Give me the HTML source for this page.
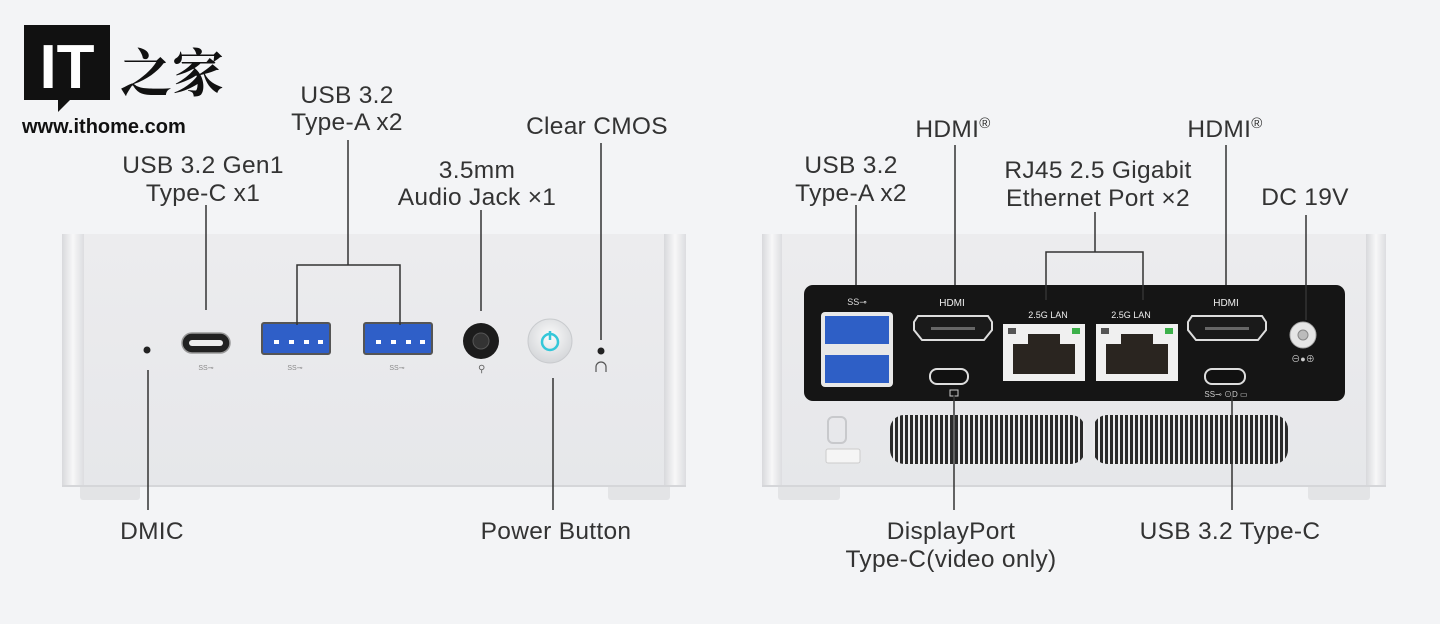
<!DOCTYPE html>
<html><head><meta charset="utf-8"><style>
html,body{margin:0;padding:0;background:#f3f4f6;}
svg{display:block}
text{font-family:"Liberation Sans","Noto Sans CJK SC",sans-serif;fill:#333;}
</style></head><body>
<svg width="1440" height="624" viewBox="0 0 1440 624" xmlns="http://www.w3.org/2000/svg">
<defs>
<linearGradient id="box" x1="0" y1="0" x2="0" y2="1"><stop offset="0" stop-color="#ececee"/><stop offset="1" stop-color="#e6e7ea"/></linearGradient>
<linearGradient id="side" x1="0" y1="0" x2="1" y2="0"><stop offset="0" stop-color="#d8d9dc"/><stop offset="0.5" stop-color="#f7f7f8"/><stop offset="1" stop-color="#dcdde0"/></linearGradient>
<pattern id="vent" width="5" height="10" patternUnits="userSpaceOnUse"><rect width="5" height="10" fill="#ededee"/><rect width="3" height="10" fill="#2a2a2a"/></pattern>
<radialGradient id="pb" cx="0.5" cy="0.4" r="0.6"><stop offset="0" stop-color="#fbfbfb"/><stop offset="1" stop-color="#d4d6d9"/></radialGradient>
</defs>
<rect width="1440" height="624" fill="#f3f4f6"/>

<!-- logo -->
<rect x="24" y="25" width="86" height="75" fill="#111"/>
<polygon points="58,100 70,100 58,112" fill="#111"/>
<text x="67" y="88" font-size="62" font-weight="bold" text-anchor="middle" style="fill:#fff">IT</text>
<text x="120" y="92" font-size="52" font-weight="bold" style="fill:#111;font-family:'Noto Serif CJK SC',serif">之家</text>
<text x="22" y="133" font-size="20" font-weight="bold" style="fill:#111">www.ithome.com</text>

<!-- LEFT BOX -->
<rect x="80" y="480" width="60" height="20" rx="3" fill="#e3e4e6"/>
<rect x="608" y="480" width="62" height="20" rx="3" fill="#e3e4e6"/>
<rect x="62" y="234" width="624" height="253" fill="url(#box)"/>
<rect x="62" y="234" width="22" height="253" fill="url(#side)"/>
<rect x="664" y="234" width="22" height="253" fill="url(#side)"/>
<line x1="62" y1="486" x2="686" y2="486" stroke="#d5d6d9" stroke-width="2"/>

<circle cx="147" cy="350" r="3.5" fill="#222"/>
<rect x="182" y="333" width="48" height="20" rx="10" fill="#222" stroke="#999" stroke-width="1.5"/>
<rect x="189" y="340" width="34" height="6" rx="3" fill="#eee"/>
<text x="206" y="370" font-size="7" text-anchor="middle" style="fill:#888">SS⊸</text>
<g>
<rect x="262" y="323" width="68" height="31" rx="2" fill="#2f5fc8" stroke="#555" stroke-width="2"/>
<rect x="274" y="340" width="5" height="4" fill="#fff"/><rect x="289" y="340" width="5" height="4" fill="#fff"/><rect x="304" y="340" width="5" height="4" fill="#fff"/><rect x="318" y="340" width="5" height="4" fill="#fff"/>
<text x="295" y="370" font-size="7" text-anchor="middle" style="fill:#888">SS⊸</text>
<rect x="364" y="323" width="68" height="31" rx="2" fill="#2f5fc8" stroke="#555" stroke-width="2"/>
<rect x="376" y="340" width="5" height="4" fill="#fff"/><rect x="391" y="340" width="5" height="4" fill="#fff"/><rect x="406" y="340" width="5" height="4" fill="#fff"/><rect x="420" y="340" width="5" height="4" fill="#fff"/>
<text x="397" y="370" font-size="7" text-anchor="middle" style="fill:#888">SS⊸</text>
</g>
<circle cx="481" cy="341" r="18" fill="#1c1c1c"/>
<circle cx="481" cy="341" r="8" fill="#333" stroke="#555"/>
<text x="478" y="372" font-size="10" style="fill:#666">⚲</text>
<circle cx="550" cy="341" r="22" fill="url(#pb)" stroke="#c9cbce"/>
<circle cx="550" cy="342" r="8" fill="none" stroke="#35c7d9" stroke-width="2.5"/>
<line x1="550" y1="331" x2="550" y2="340" stroke="#35c7d9" stroke-width="2.5"/>
<circle cx="601" cy="351" r="3.5" fill="#222"/>
<path d="M596 372 v-5 a5 5 0 0 1 10 0 v5" fill="none" stroke="#555" stroke-width="1.2"/>

<!-- left connectors -->
<g stroke="#333" stroke-width="1.5" fill="none">
<line x1="206" y1="205" x2="206" y2="310"/>
<polyline points="348,140 348,265"/>
<polyline points="297,325 297,265 400,265 400,325"/>
<line x1="481" y1="210" x2="481" y2="311"/>
<line x1="601" y1="143" x2="601" y2="340"/>
<line x1="148" y1="370" x2="148" y2="510"/>
<line x1="553" y1="378" x2="553" y2="510"/>
</g>
<g font-size="24.5" text-anchor="middle" letter-spacing="0.3">
<text x="203" y="173">USB 3.2 Gen1</text><text x="203" y="201">Type-C x1</text>
<text x="347" y="103">USB 3.2</text><text x="347" y="130">Type-A x2</text>
<text x="477" y="178">3.5mm</text><text x="477" y="205">Audio Jack ×1</text>
<text x="597" y="134">Clear CMOS</text>
<text x="152" y="539">DMIC</text>
<text x="556" y="539">Power Button</text>
</g>

<!-- RIGHT BOX -->
<rect x="778" y="480" width="62" height="20" rx="3" fill="#e3e4e6"/>
<rect x="1308" y="480" width="62" height="20" rx="3" fill="#e3e4e6"/>
<rect x="762" y="234" width="624" height="253" fill="url(#box)"/>
<rect x="762" y="234" width="20" height="253" fill="url(#side)"/>
<rect x="1366" y="234" width="20" height="253" fill="url(#side)"/>
<line x1="762" y1="486" x2="1386" y2="486" stroke="#d5d6d9" stroke-width="2"/>
<rect x="804" y="285" width="541" height="116" rx="9" fill="#151515"/>

<rect x="821" y="312" width="72" height="75" rx="4" fill="#e8e8e8"/>
<rect x="825" y="316" width="64" height="28" fill="#2e5fc6"/>
<rect x="825" y="355" width="64" height="28" fill="#2e5fc6"/>
<text x="857" y="305" font-size="9" text-anchor="middle" style="fill:#ddd">SS⊸</text>
<text x="952" y="306" font-size="10" text-anchor="middle" style="fill:#eee">HDMI</text>
<path d="M918 316 h70 l4 6 v8 l-8 10 h-62 l-8 -10 v-8 z" fill="#1a1a1a" stroke="#ddd" stroke-width="2"/>
<rect x="931" y="327" width="44" height="3" fill="#666"/>
<rect x="930" y="369" width="38" height="15" rx="7" fill="#111" stroke="#ddd" stroke-width="2"/>
<rect x="950" y="390" width="8" height="6" fill="none" stroke="#ccc"/>
<text x="1048" y="318" font-size="9" text-anchor="middle" style="fill:#eee">2.5G LAN</text>
<text x="1131" y="318" font-size="9" text-anchor="middle" style="fill:#eee">2.5G LAN</text>
<rect x="1003" y="324" width="82" height="57" fill="#f0f0f0"/>
<path d="M1013 344 h15 v-10 h32 v10 h15 v30 h-62 z" fill="#2a2520"/>
<rect x="1008" y="328" width="8" height="6" fill="#555"/><rect x="1072" y="328" width="8" height="6" fill="#3cb04a"/>
<rect x="1096" y="324" width="82" height="57" fill="#f0f0f0"/>
<path d="M1106 344 h15 v-10 h32 v10 h15 v30 h-62 z" fill="#2a2520"/>
<rect x="1101" y="328" width="8" height="6" fill="#555"/><rect x="1165" y="328" width="8" height="6" fill="#3cb04a"/>
<text x="1226" y="306" font-size="10" text-anchor="middle" style="fill:#eee">HDMI</text>
<path d="M1192 316 h70 l4 6 v8 l-8 10 h-62 l-8 -10 v-8 z" fill="#1a1a1a" stroke="#ddd" stroke-width="2"/>
<rect x="1205" y="327" width="44" height="3" fill="#666"/>
<rect x="1205" y="369" width="40" height="15" rx="7" fill="#111" stroke="#ddd" stroke-width="2"/>
<text x="1226" y="397" font-size="8" text-anchor="middle" style="fill:#ccc">SS⊸ ⊙D ▭</text>
<circle cx="1303" cy="335" r="13" fill="#e5e5e5" stroke="#aaa"/>
<circle cx="1303" cy="335" r="5" fill="#bbb" stroke="#888"/>
<text x="1303" y="362" font-size="9" text-anchor="middle" style="fill:#ccc">⊖●⊕</text>

<rect x="828" y="417" width="18" height="26" rx="5" fill="none" stroke="#c8c9cc" stroke-width="2"/>
<rect x="826" y="449" width="34" height="14" rx="2" fill="#f5f5f5" stroke="#ccc"/>
<rect x="890" y="415" width="195" height="49" rx="14" fill="url(#vent)"/>
<rect x="1093" y="415" width="195" height="49" rx="14" fill="url(#vent)"/>

<g stroke="#333" stroke-width="1.5" fill="none">
<line x1="856" y1="205" x2="856" y2="285"/>
<line x1="955" y1="145" x2="955" y2="285"/>
<line x1="1095" y1="212" x2="1095" y2="252"/>
<polyline points="1046,300 1046,252 1143,252 1143,300"/>
<line x1="1226" y1="145" x2="1226" y2="285"/>
<line x1="1306" y1="215" x2="1306" y2="320"/>
<line x1="954" y1="395" x2="954" y2="510"/>
<line x1="1232" y1="395" x2="1232" y2="510"/>
</g>
<g font-size="24.5" text-anchor="middle" letter-spacing="0.3">
<text x="851" y="173">USB 3.2</text><text x="851" y="201">Type-A x2</text>
<text x="953" y="137">HDMI<tspan font-size="15" dy="-9">®</tspan></text>
<text x="1098" y="178">RJ45 2.5 Gigabit</text><text x="1098" y="206">Ethernet Port ×2</text>
<text x="1225" y="137">HDMI<tspan font-size="15" dy="-9">®</tspan></text>
<text x="1305" y="205">DC 19V</text>
<text x="951" y="539">DisplayPort</text><text x="951" y="567">Type-C(video only)</text>
<text x="1230" y="539">USB 3.2 Type-C</text>
</g>
</svg>
</body></html>
